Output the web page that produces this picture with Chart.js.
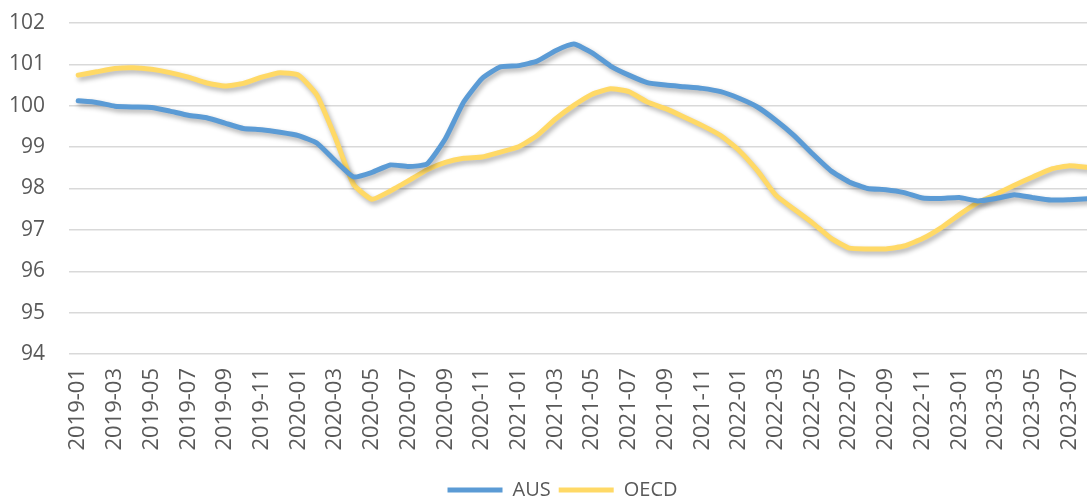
<!DOCTYPE html>
<html>
<head>
<meta charset="utf-8">
<script src="https://cdn.jsdelivr.net/npm/chart.js@4"></script>
<style>
  html, body { margin: 0; padding: 0; background: #fff; overflow: hidden; }
  #wrap { width: 1100px; height: 497px; position: relative; }
</style>
</head>
<body>
<div id="wrap"><canvas id="myChart"></canvas></div>
<script>
// monthly categories
var months = [
  '2019-01','2019-02','2019-03','2019-04','2019-05','2019-06','2019-07','2019-08','2019-09','2019-10','2019-11','2019-12',
  '2020-01','2020-02','2020-03','2020-04','2020-05','2020-06','2020-07','2020-08','2020-09','2020-10','2020-11','2020-12',
  '2021-01','2021-02','2021-03','2021-04','2021-05','2021-06','2021-07','2021-08','2021-09','2021-10','2021-11','2021-12',
  '2022-01','2022-02','2022-03','2022-04','2022-05','2022-06','2022-07','2022-08','2022-09','2022-10','2022-11','2022-12',
  '2023-01','2023-02','2023-03','2023-04','2023-05','2023-06','2023-07','2023-08'
];

var aus = [
  100.12,100.08,99.99,99.97,99.96,99.87,99.77,99.71,99.58,99.45,99.42,99.36,
  99.28,99.10,98.67,98.28,98.39,98.57,98.53,98.59,99.20,100.09,100.66,100.94,
  100.97,101.08,101.33,101.49,101.28,100.96,100.74,100.56,100.50,100.46,100.42,100.34,
  100.18,99.97,99.65,99.28,98.84,98.43,98.16,98.00,97.97,97.90,97.77,97.76,
  97.78,97.70,97.76,97.85,97.78,97.72,97.73,97.75
];

var oecd = [
  100.74,100.82,100.90,100.92,100.88,100.80,100.69,100.55,100.48,100.54,100.69,100.80,
  100.74,100.26,99.24,98.10,97.74,97.94,98.19,98.45,98.63,98.73,98.76,98.88,
  99.01,99.28,99.68,100.01,100.28,100.41,100.34,100.09,99.93,99.73,99.52,99.28,
  98.92,98.43,97.84,97.50,97.17,96.80,96.56,96.54,96.54,96.61,96.79,97.05,
  97.37,97.66,97.86,98.08,98.28,98.47,98.55,98.51
];

var yMin = 94, yMax = 102;

// drop shadow under the lines, like the excel chart
var shadowPlugin = {
  id: 'lineShadow',
  beforeDatasetDraw: function(chart){
    var c = chart.ctx;
    c.save();
    c.shadowColor = 'rgba(0,0,0,0.32)';
    c.shadowBlur = 5;
    c.shadowOffsetX = 2;
    c.shadowOffsetY = 3;
  },
  afterDatasetDraw: function(chart){
    chart.ctx.restore();
  }
};

// nudge legend to sit where the excel one is
var legendShift = {
  id: 'legendShift',
  afterLayout: function(chart){
    chart.legend.left += 28;
    chart.legend.top += 13;
  }
};

var font = "'Open Sans', 'Noto Sans', sans-serif";

var ctx = document.getElementById('myChart').getContext('2d');
var myChart = new Chart(ctx, {
  type: 'line',
  data: {
    labels: months,
    datasets: [{
      label: 'AUS',
      data: aus,
      borderColor: '#5B9BD5',
      backgroundColor: '#5B9BD5',
      borderWidth: 5,
      borderCapStyle: 'round',
      borderJoinStyle: 'round',
      pointRadius: 0,
      tension: 0.15
    }, {
      label: 'OECD',
      data: oecd,
      borderColor: '#FFD966',
      backgroundColor: '#FFD966',
      borderWidth: 5,
      borderCapStyle: 'round',
      borderJoinStyle: 'round',
      pointRadius: 0,
      tension: 0.15
    }]
  },
  plugins: [shadowPlugin, legendShift],
  options: {
    responsive: true,
    maintainAspectRatio: false,
    animation: false,
    layout: { padding: { left: 0, right: 3, top: 23, bottom: 0 } },
    plugins: {
      tooltip: { enabled: false },
      legend: {
        position: 'bottom',
        labels: {
          color: '#595959',
          font: { family: font, size: 20 },
          usePointStyle: true,
          pointStyle: 'line',
          pointStyleWidth: 55,
          boxHeight: 5,
          padding: 8
        }
      }
    },
    scales: {
      x: {
        offset: true,
        grid: { display: false, drawTicks: false },
        border: { display: false },
        ticks: {
          color: '#595959',
          font: { family: font, size: 22 },
          autoSkip: false,
          minRotation: 90,
          maxRotation: 90,
          padding: 14,
          callback: function(v, i){ return i % 2 === 0 ? months[i] : ''; }
        },
        afterFit: function(s){
          s.height = 105;
          s.paddingLeft = 0;
          s.paddingRight = 0;
        }
      },
      y: {
        min: yMin,
        max: yMax,
        grid: { color: '#D9D9D9', lineWidth: 1.5, drawTicks: false },
        border: { display: false },
        ticks: {
          stepSize: 1,
          color: '#595959',
          font: { family: font, size: 21 },
          padding: 24
        },
        afterFit: function(s){
          s.width = 69;
          s.paddingTop = 0;
          s.paddingBottom = 0;
        }
      }
    }
  }
});
</script>
</body>
</html>
